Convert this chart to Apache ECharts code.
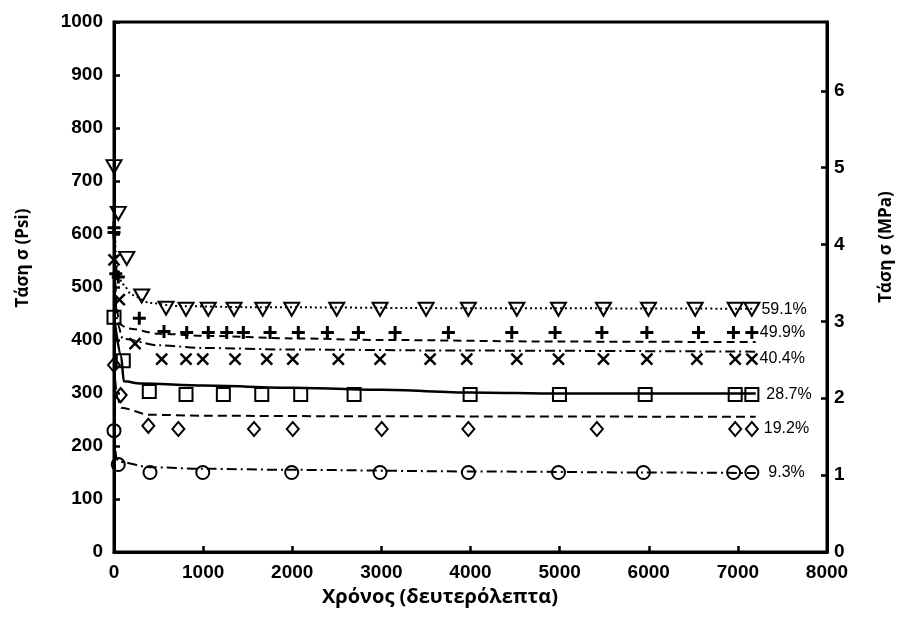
<!DOCTYPE html>
<html>
<head>
<meta charset="utf-8">
<script src="https://cdn.jsdelivr.net/npm/echarts@6/dist/echarts.min.js"></script>
<style>
    html, body { margin: 0; padding: 0; background: #fff; }
    #chart { width: 898px; height: 625px; }
</style>
</head>
<body>
<div id="chart"></div>
<script>
// measured points (time s, stress psi)
const tri591 = [[0,727],[48,639],[143,554],[311,483],[584,460],[808,458],[1058,458],[1347,458],[1669,458],[1994,458],[2499,458],[2985,458],[3502,458],[3976,458],[4520,458],[4987,458],[5492,458],[5997,458],[6521,458],[6970,458],[7157,458]];
const plus499 = [[0,612],[0,603],[20,525],[48,519],[284,441],[561,416],[816,414],[1058,414],[1265,414],[1451,414],[1751,414],[2068,414],[2394,414],[2742,414],[3154,414],[3752,414],[4463,414],[4949,414],[5474,414],[5979,414],[6558,414],[6950,414],[7157,414]];
const cross404 = [[0,551],[60,476],[236,393],[535,364],[808,364],[996,364],[1358,364],[1714,364],[2006,364],[2517,364],[2985,364],[3547,364],[3958,364],[4520,364],[4987,364],[5492,364],[5979,364],[6540,364],[6970,364],[7157,364]];
const sq287 = [[0,443],[104,361],[396,303],[808,297],[1227,297],[1658,297],[2095,297],[2694,297],[3996,297],[4998,297],[5960,297],[6970,297],[7157,297]];
const dia192 = [[0,353],[75,296],[385,238],[722,232],[1571,232],[2006,232],[3004,232],[3976,232],[5418,232],[6970,232],[7157,232]];
const circ93 = [[0,229],[48,165],[404,150],[996,150],[1994,150],[2985,150],[3976,150],[4987,150],[5940,150],[6952,150],[7157,150]];

// fitted curves
const fit591 = [[0,720],[20,560],[40,526],[100,505],[200,485],[400,470],[700,464],[1500,462],[4000,460],[7200,459]];
const fit499 = [[0,605],[30,460],[60,430],[150,422],[500,412],[1000,408],[2000,403],[3000,400],[5000,397],[7200,396]];
const fit404 = [[0,545],[40,430],[100,402],[500,390],[1000,385],[2000,382],[4000,380],[7200,378]];
const fit287 = [[0,445],[80,370],[110,322],[300,318],[1000,314],[2000,310],[3000,306],[4000,301],[5000,299],[7200,299]];
const fit192 = [[0,350],[40,290],[80,272],[400,259],[1000,257],[3000,256],[7200,255]];
const fit93 = [[0,228],[30,175],[60,170],[400,160],[1000,157],[2000,155],[4000,152],[6000,150],[7200,149]];

const labels = ['59.1%', '49.9%', '40.4%', '28.7%', '19.2%', '9.3%'];
const PSI_PER_MPA = 145.038;

let chart = echarts.init(document.getElementById('chart'));

function fitLine(data, dash, width) {
    return {
        type: 'line',
        data: data,
        yAxisIndex: 0,
        smooth: 0.3,
        smoothMonotone: 'x',
        showSymbol: false,
        symbol: 'none',
        silent: true,
        lineStyle: { color: '#000', width: width || 2, type: dash },
        z: 2
    };
}

function points(name, data, symbol, size, bw, dist, rotate) {
    return {
        type: 'scatter',
        name: name,
        data: data.map((p, i) => i == data.length - 1
            ? { value: p, label: { show: true } }
            : p),
        symbol: symbol,
        symbolSize: size,
        symbolRotate: rotate || 0,
        itemStyle: { color: 'rgba(0,0,0,0)', borderColor: '#000', borderWidth: bw, opacity: 1 },
        label: {
            show: false,
            position: 'right',
            distance: dist,
            formatter: name,
            color: '#000',
            fontSize: 16,
            fontFamily: 'Liberation Sans'
        },
        z: 3
    };
}

const tickFont = { color: '#000', fontSize: 19, fontWeight: 'bold', fontFamily: 'Liberation Sans' };

let option = {
    animation: false,
    grid: {
        left: 114, right: 71, top: 22, bottom: 73,
        show: true, borderColor: '#000', borderWidth: 3, backgroundColor: 'transparent'
    },
    xAxis: {
        type: 'value', min: 0, max: 8000, interval: 1000,
        axisLine: { lineStyle: { color: '#000', width: 3 } },
        axisTick: { inside: true, length: 6, lineStyle: { color: '#000', width: 2.5 } },
        axisLabel: Object.assign({ margin: 11, formatter: v => String(v) }, tickFont),
        splitLine: { show: false }
    },
    yAxis: [
        {
            type: 'value', min: 0, max: 1000, interval: 100,
            axisLine: { show: true, lineStyle: { color: '#000', width: 3 } },
            axisTick: { show: true, inside: true, length: 6, lineStyle: { color: '#000', width: 2.5 } },
            axisLabel: Object.assign({ margin: 11, formatter: v => String(v) }, tickFont),
            splitLine: { show: false }
        },
        {
            type: 'value', min: 0, max: 1000 / PSI_PER_MPA, interval: 1,
            position: 'right',
            axisLine: { show: true, lineStyle: { color: '#000', width: 3 } },
            axisTick: { show: true, inside: true, length: 6, lineStyle: { color: '#000', width: 2.5 } },
            axisLabel: Object.assign({
                margin: 7,
                showMaxLabel: false,
                formatter: v => Number.isInteger(v) ? String(v) : ''
            }, tickFont),
            splitLine: { show: false }
        }
    ],
    graphic: [
        {
            type: 'text',
            style: { text: 'Χρόνος (δευτερόλεπτα)', fill: '#000', font: 'bold 20px "Open Sans"', align: 'center', verticalAlign: 'middle' },
            x: 440, y: 597
        },
        {
            type: 'text', rotation: Math.PI / 2,
            style: { text: 'Τάση σ (Psi)', fill: '#000', font: 'bold 17px "Open Sans"', align: 'center', verticalAlign: 'middle' },
            x: 23, y: 258
        },
        {
            type: 'text', rotation: Math.PI / 2,
            style: { text: 'Τάση σ (MPa)', fill: '#000', font: 'bold 17px "Open Sans"', align: 'center', verticalAlign: 'middle' },
            x: 886, y: 247
        }
    ],
    series: [
        fitLine(fit591, [2, 3]),
        fitLine(fit499, [8, 5]),
        fitLine(fit404, [10, 4, 2, 4]),
        fitLine(fit287, 'solid', 2.5),
        fitLine(fit192, [9, 5]),
        fitLine(fit93, [10, 4, 2, 4]),
        points(labels[0], tri591, 'triangle', [15, 13], 2, 1, 180),
        points(labels[1], plus499, 'path://M0,6H12M6,0V12', 13, 3, 0),
        points(labels[2], cross404, 'path://M0,0L10,10M10,0L0,10', 11, 2.5, 1),
        points(labels[3], sq287, 'rect', 13, 2, 7),
        points(labels[4], dia192, 'diamond', [12, 14], 2, 5),
        points(labels[5], circ93, 'circle', 13, 2, 9)
    ]
};

chart.setOption(option);
</script>
</body>
</html>
